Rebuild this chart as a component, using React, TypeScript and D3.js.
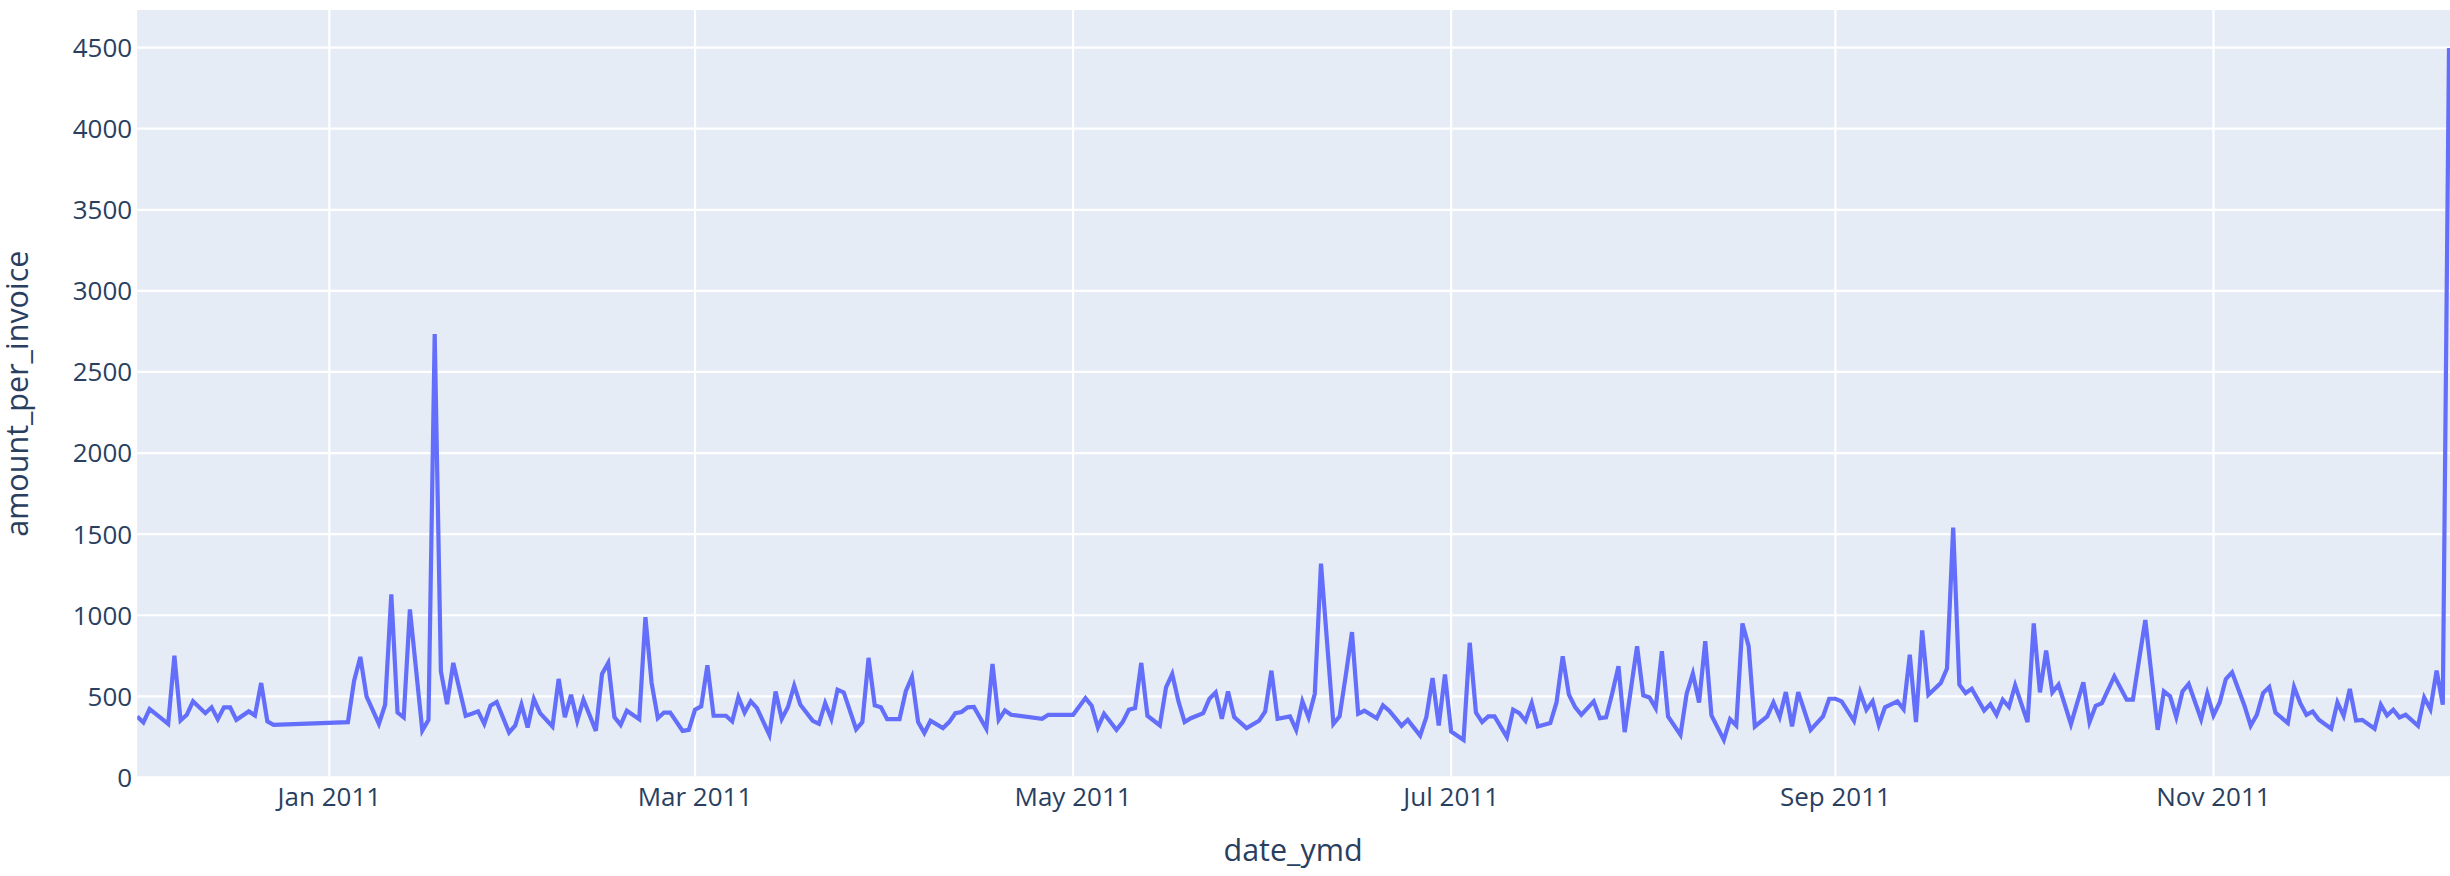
import React from "react";
import * as d3 from "d3";

// ---- data: trading days per month and the matching amount_per_invoice values ----
const months: [number, number][] = [
  [2010, 11], [2011, 0], [2011, 1], [2011, 2], [2011, 3], [2011, 4], [2011, 5],
  [2011, 6], [2011, 7], [2011, 8], [2011, 9], [2011, 10], [2011, 11],
];

const days_2010_12 = [1, 2, 3, 5, 6, 7, 8, 9, 10, 12, 13, 14, 15, 16, 17, 19, 20, 21, 22, 23];
const vals_2010_12 = [376, 339, 421, 361, 330, 751, 351, 386, 469, 396, 432, 359, 432, 432, 355, 407, 382, 582, 345, 324];

const days_2011_01 = [4, 5, 6, 7, 9, 10, 11, 12, 13, 14, 16, 17, 18, 19, 20, 21, 23, 24, 25, 26, 27, 28, 30, 31];
const vals_2011_01 = [341, 596, 743, 500, 330, 448, 1129, 400, 370, 1036, 289, 355, 2734, 654, 452, 706, 380, 392, 407, 330, 442, 465, 277, 320];

const days_2011_02 = [1, 2, 3, 4, 6, 7, 8, 9, 10, 11, 13, 14, 15, 16, 17, 18, 20, 21, 22, 23, 24, 25, 27, 28];
const vals_2011_02 = [448, 308, 483, 396, 314, 607, 372, 510, 349, 479, 287, 638, 706, 372, 324, 411, 359, 988, 582, 365, 400, 400, 287, 293];

const days_2011_03 = [1, 2, 3, 4, 6, 7, 8, 9, 10, 11, 13, 14, 15, 16, 17, 18, 20, 21, 22, 23, 24, 25, 27, 28, 29, 30, 31];
const vals_2011_03 = [417, 438, 691, 380, 380, 345, 495, 400, 469, 427, 262, 530, 361, 434, 566, 448, 349, 330, 458, 361, 541, 524, 297, 341, 737, 444, 432];

const days_2011_04 = [1, 3, 4, 5, 6, 7, 8, 10, 11, 12, 13, 14, 15, 17, 18, 19, 20, 21, 26, 27, 28];
const vals_2011_04 = [359, 359, 530, 619, 341, 273, 349, 304, 341, 396, 403, 432, 434, 300, 700, 355, 413, 386, 361, 386, 386];

const days_2011_05 = [1, 3, 4, 5, 6, 8, 9, 10, 11, 12, 13, 15, 16, 17, 18, 19, 20, 22, 23, 24, 25, 26, 27, 29, 31];
const vals_2011_05 = [386, 489, 442, 308, 392, 293, 341, 417, 427, 706, 380, 320, 555, 638, 469, 341, 365, 396, 485, 524, 361, 530, 372, 304, 349];

const days_2011_06 = [1, 2, 3, 5, 6, 7, 8, 9, 10, 12, 13, 14, 15, 16, 17, 19, 20, 21, 22, 23, 24, 26, 27, 28, 29, 30];
const vals_2011_06 = [407, 658, 361, 376, 293, 469, 370, 516, 1318, 330, 376, 630, 896, 392, 411, 365, 444, 411, 365, 318, 355, 258, 372, 613, 320, 634];

const days_2011_07 = [1, 3, 4, 5, 6, 7, 8, 10, 11, 12, 13, 14, 15, 17, 18, 19, 20, 21, 22, 24, 25, 26, 27, 28, 29, 31];
const vals_2011_07 = [283, 231, 830, 400, 341, 376, 376, 248, 417, 396, 349, 458, 314, 335, 462, 747, 510, 434, 386, 469, 365, 370, 520, 685, 279, 809];

const days_2011_08 = [1, 2, 3, 4, 5, 7, 8, 9, 10, 11, 12, 14, 15, 16, 17, 18, 19, 21, 22, 23, 24, 25, 26, 28, 30, 31];
const vals_2011_08 = [506, 493, 427, 778, 376, 262, 516, 640, 462, 840, 382, 231, 359, 320, 949, 809, 314, 376, 462, 372, 526, 314, 526, 293, 376, 485];

const days_2011_09 = [1, 2, 4, 5, 6, 7, 8, 9, 11, 12, 13, 14, 15, 16, 18, 19, 20, 21, 22, 23, 25, 26, 27, 28, 29, 30];
const vals_2011_09 = [485, 469, 349, 524, 417, 469, 324, 432, 469, 421, 757, 341, 906, 510, 582, 671, 1540, 572, 520, 547, 413, 452, 386, 479, 434, 568];

const days_2011_10 = [2, 3, 4, 5, 6, 7, 9, 10, 11, 12, 13, 14, 16, 17, 18, 19, 20, 21, 23, 24, 25, 26, 27, 28, 30, 31];
const vals_2011_10 = [341, 949, 524, 782, 524, 572, 328, 458, 586, 341, 442, 458, 623, 551, 479, 479, 726, 970, 293, 530, 500, 372, 530, 576, 359, 516];

const days_2011_11 = [1, 2, 3, 4, 6, 7, 8, 9, 10, 11, 13, 14, 15, 16, 17, 18, 20, 21, 22, 23, 24, 25, 27, 28, 29, 30];
const vals_2011_11 = [382, 462, 607, 648, 442, 318, 386, 520, 557, 400, 335, 557, 458, 386, 407, 355, 300, 462, 380, 545, 351, 355, 300, 448, 382, 417];

const days_2011_12 = [1, 2, 4, 5, 6, 7, 8, 9];
const vals_2011_12 = [370, 386, 318, 493, 421, 658, 448, 4498];

const dayLists = [days_2010_12, days_2011_01, days_2011_02, days_2011_03, days_2011_04, days_2011_05,
  days_2011_06, days_2011_07, days_2011_08, days_2011_09, days_2011_10, days_2011_11, days_2011_12];
const valLists = [vals_2010_12, vals_2011_01, vals_2011_02, vals_2011_03, vals_2011_04, vals_2011_05,
  vals_2011_06, vals_2011_07, vals_2011_08, vals_2011_09, vals_2011_10, vals_2011_11, vals_2011_12];

const yTicks = [0, 500, 1000, 1500, 2000, 2500, 3000, 3500, 4000, 4500];
const xTitle = "date_ymd";
const yTitle = "amount_per_invoice";

type Pt = { date: Date; value: number };
const points: Pt[] = [];
months.forEach(([y, m], i) => {
  dayLists[i].forEach((d, j) => points.push({ date: new Date(y, m, d), value: valLists[i][j] }));
});

const W = 2450;
const H = 876;
const L = 137.2;
const R = 2449;
const T = 10;
const B = 777.4;
const FONT = "'Open Sans', 'Noto Sans', sans-serif";
const TXT = "#2a3f5f";

export default function App() {
  const x = d3.scaleTime()
    .domain([points[0].date, points[points.length - 1].date])
    .range([L, R]);
  const y = d3.scaleLinear().domain([0, 4732]).range([B, T]);
  const xTicks = x.ticks(d3.timeMonth.every(2) as any).filter((d) => d.getFullYear() === 2011);
  const fmt = d3.timeFormat("%b %Y");
  const line = d3.line<Pt>().x((d) => x(d.date)).y((d) => y(d.value));

  return (
    <svg width={W} height={H} style={{ position: "absolute", left: 0, top: 0, display: "block", background: "#fff" }}>
      <defs>
        <clipPath id="plotclip">
          <rect x={L} y={T - 2} width={R - L + 2} height={B - T + 4} />
        </clipPath>
      </defs>
      <rect x={L} y={T} width={R - L + 1} height={B - T} fill="#E5ECF6" />
      {yTicks.map((t) => (
        <line key={"gy" + t} x1={L} x2={R + 1} y1={y(t)} y2={y(t)} stroke="#fff" strokeWidth={2.2} />
      ))}
      {xTicks.map((t) => (
        <line key={"gx" + t.getTime()} x1={x(t)} x2={x(t)} y1={T} y2={B} stroke="#fff" strokeWidth={2.2} />
      ))}
      <path d={line(points) || ""} fill="none" stroke="#636efa" strokeWidth={4.2} clipPath="url(#plotclip)" />
      {yTicks.map((t) => (
        <text key={"ty" + t} x={L - 5} y={y(t)} dy="0.36em" textAnchor="end" fontFamily={FONT} fontSize={26} fill={TXT}>
          {t}
        </text>
      ))}
      {xTicks.map((t) => (
        <text key={"tx" + t.getTime()} x={x(t)} y={806} textAnchor="middle" fontFamily={FONT} fontSize={26} fill={TXT}>
          {fmt(t)}
        </text>
      ))}
      <text x={(L + R) / 2} y={861} textAnchor="middle" fontFamily={FONT} fontSize={30.5} fill={TXT}>
        {xTitle}
      </text>
      <text transform={`translate(28, ${(T + B) / 2}) rotate(-90)`} textAnchor="middle" fontFamily={FONT} fontSize={30.5} fill={TXT}>
        {yTitle}
      </text>
    </svg>
  );
}
